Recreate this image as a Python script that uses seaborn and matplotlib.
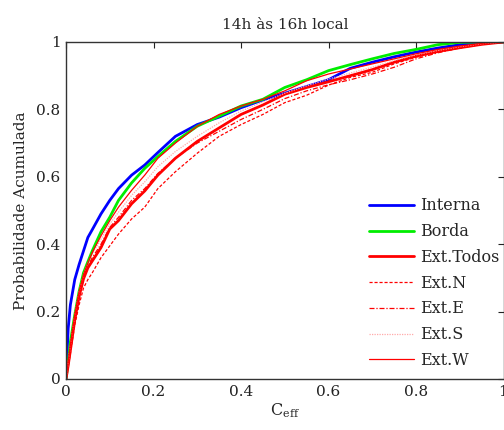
import numpy as np
import pandas as pd
import matplotlib
matplotlib.use("Agg")
import matplotlib.pyplot as plt
import seaborn as sns

# ---- data ----
x_vals = [0, 0.005, 0.01, 0.02, 0.03, 0.04, 0.05, 0.06, 0.08, 0.10, 0.12, 0.15,
          0.18, 0.21, 0.25, 0.30, 0.35, 0.40, 0.45, 0.50, 0.55, 0.60, 0.65,
          0.70, 0.75, 0.80, 0.85, 0.90, 0.95, 1.0]

interna = [0, 0.15, 0.22, 0.295, 0.34, 0.38, 0.42, 0.443, 0.49, 0.53, 0.565, 0.605,
           0.635, 0.672, 0.72, 0.755, 0.777, 0.805, 0.828, 0.848, 0.868, 0.888, 0.922,
           0.94, 0.956, 0.97, 0.982, 0.992, 0.997, 1.0]
borda = [0, 0.05, 0.11, 0.19, 0.26, 0.315, 0.348, 0.38, 0.437, 0.48, 0.53, 0.582,
         0.625, 0.66, 0.705, 0.75, 0.78, 0.81, 0.83, 0.865, 0.888, 0.915, 0.933,
         0.95, 0.966, 0.978, 0.992, 0.999, 1.0, 1.0]
ext_todos = [0, 0.04, 0.085, 0.175, 0.245, 0.297, 0.33, 0.35, 0.39, 0.445, 0.47, 0.52,
             0.558, 0.605, 0.655, 0.705, 0.745, 0.785, 0.813, 0.845, 0.865, 0.882, 0.9,
             0.918, 0.94, 0.958, 0.972, 0.983, 0.993, 1.0]
ext_n = [0, 0.035, 0.075, 0.16, 0.22, 0.27, 0.295, 0.315, 0.36, 0.395, 0.43, 0.475,
         0.51, 0.565, 0.615, 0.67, 0.72, 0.755, 0.785, 0.82, 0.842, 0.872, 0.895,
         0.91, 0.935, 0.955, 0.97, 0.982, 0.993, 1.0]
ext_e = [0, 0.045, 0.09, 0.18, 0.25, 0.30, 0.335, 0.36, 0.40, 0.45, 0.48, 0.53,
         0.565, 0.61, 0.655, 0.70, 0.735, 0.77, 0.80, 0.832, 0.855, 0.873, 0.888,
         0.905, 0.925, 0.95, 0.968, 0.982, 0.993, 1.0]
ext_s = [0, 0.05, 0.10, 0.19, 0.26, 0.31, 0.345, 0.37, 0.415, 0.46, 0.495, 0.545,
         0.585, 0.63, 0.675, 0.72, 0.76, 0.795, 0.822, 0.848, 0.87, 0.89, 0.908,
         0.925, 0.945, 0.962, 0.975, 0.986, 0.995, 1.0]
ext_w = [0, 0.05, 0.10, 0.19, 0.26, 0.31, 0.345, 0.375, 0.425, 0.47, 0.51, 0.56,
         0.605, 0.655, 0.70, 0.75, 0.785, 0.81, 0.83, 0.855, 0.885, 0.905, 0.92,
         0.935, 0.95, 0.965, 0.978, 0.988, 0.996, 1.0]

series_names = ["Interna", "Borda", "Ext.Todos", "Ext.N", "Ext.E", "Ext.S", "Ext.W"]
series_values = [interna, borda, ext_todos, ext_n, ext_e, ext_s, ext_w]

x_ticks = [0, 0.2, 0.4, 0.6, 0.8, 1.0]
x_tick_labels = ["0", "0.2", "0.4", "0.6", "0.8", "1"]
y_ticks = [0, 0.2, 0.4, 0.6, 0.8, 1.0]
y_tick_labels = ["0", "0.2", "0.4", "0.6", "0.8", "1"]

title = "14h às 16h local"
xlabel = r"C$_{\mathrm{eff}}$"
ylabel = "Probabilidade Acumulada"

# ---- styling ----
sns.set_style("white")
plt.rcParams["font.family"] = ["DejaVu Serif"]
plt.rcParams["mathtext.fontset"] = "dejavuserif"

styles = {
    "Interna":   dict(color="#0000ff", lw=2.0, ls="-"),
    "Borda":     dict(color="#00ee00", lw=2.0, ls="-"),
    "Ext.Todos": dict(color="#ff0000", lw=2.0, ls="-"),
    "Ext.N":     dict(color="#ff0000", lw=0.9, ls=(0, (2.5, 1.5))),
    "Ext.E":     dict(color="#ff0000", lw=0.9, ls=(0, (4, 1.5, 1, 1.5))),
    "Ext.S":     dict(color="#ffaaaa", lw=0.9, ls=(0, (1, 1))),
    "Ext.W":     dict(color="#ff0000", lw=0.9, ls="-"),
}

fig = plt.figure(figsize=(5.04, 4.30), dpi=100)
ax = fig.add_axes([66 / 504, 1 - 379 / 430, 437.5 / 504, 337 / 430])

handles = []
for name, vals in zip(series_names, series_values):
    df = pd.DataFrame({"x": x_vals, "y": vals})
    st = styles[name]
    n_before = len(ax.lines)
    sns.lineplot(data=df, x="x", y="y", ax=ax, sort=False, estimator=None,
                 color=st["color"], linewidth=st["lw"], linestyle=st["ls"],
                 legend=False)
    handles.append(ax.lines[n_before])

ax.set_xlim(0, 1)
ax.set_ylim(0, 1)
ax.set_xticks(x_ticks)
ax.set_xticklabels(x_tick_labels)
ax.set_yticks(y_ticks)
ax.set_yticklabels(y_tick_labels)
ax.tick_params(direction="in", length=4, width=0.8, top=True, right=True,
               labelsize=11, colors="#222222", pad=4)
for sp in ax.spines.values():
    sp.set_visible(True)
    sp.set_color("#333333")
    sp.set_linewidth(1.0)

ax.set_title(title, fontsize=11, pad=9)
ax.set_xlabel(xlabel, fontsize=11.5, labelpad=2)
ax.set_ylabel(ylabel, fontsize=11, labelpad=6)

leg = ax.legend(handles, series_names, loc="upper left",
                bbox_to_anchor=(0.678, 0.558), frameon=False,
                fontsize=11.5, handlelength=2.8, handletextpad=0.38,
                labelspacing=0.55, borderaxespad=0)

fig.savefig("out.png", dpi=100)
